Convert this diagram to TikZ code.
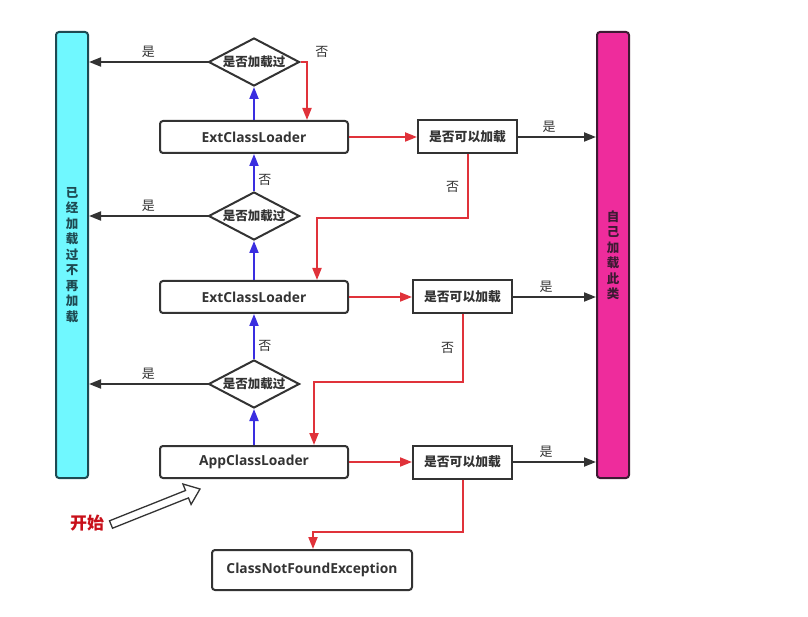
\documentclass[tikz,border=0pt]{standalone}
\usepackage{fontspec}
\setmainfont{Open Sans}
\newfontfamily\cjk{Noto Sans CJK SC}
\usetikzlibrary{shapes.geometric, arrows.meta, positioning}

\definecolor{redline}{HTML}{E0323A}
\definecolor{blueline}{HTML}{3A2EE0}
\definecolor{darkline}{HTML}{333333}
\definecolor{cyanbar}{HTML}{70F8FF}
\definecolor{cyanedge}{HTML}{1E4A52}
\definecolor{pinkbar}{HTML}{EE2C9C}
\definecolor{pinkedge}{HTML}{3D1A33}
\definecolor{starttext}{HTML}{C8101A}

\begin{document}
\begin{tikzpicture}[x=1pt, y=-1pt, >={Triangle[length=12pt, width=9pt]}, line width=2pt,
    loader/.style={draw=darkline, rounded corners=3pt, minimum width=188pt, minimum height=32pt,
        font=\bfseries\fontsize{13.8}{16}\selectfont, text=darkline},
    check/.style={draw=darkline, diamond, aspect=1.9, minimum width=91pt, minimum height=48pt,
        inner sep=0pt, font=\cjk\bfseries\fontsize{12.5}{14}\selectfont, text=darkline},
    canbox/.style={draw=darkline, minimum width=99pt, minimum height=33pt,
        font=\cjk\bfseries\fontsize{12.8}{14}\selectfont, text=darkline},
    bar/.style={rounded corners=3pt, minimum width=32pt, minimum height=446pt, align=center,
        font=\cjk\bfseries\fontsize{12.5}{15.5}\selectfont},
    tag/.style={font=\cjk\fontsize{13}{15}\selectfont, text=darkline},
    up/.style={->, draw=blueline},
    miss/.style={->, draw=redline},
    hit/.style={->, draw=darkline}]
    \useasboundingbox (0,0) rectangle (808,617);

    % side bars
    \node[bar, fill=cyanbar, draw=cyanedge, text=cyanedge] (lbar) at (72,255)
        {已\\经\\加\\载\\过\\不\\再\\加\\载};
    \node[bar, fill=pinkbar, draw=pinkedge, text=pinkedge] (rbar) at (613,255)
        {自\\己\\加\\载\\此\\类};

    % loaders and checks
    \node[check] (d1) at (254,62) {是否加载过};
    \node[loader] (ext1) at (254,137) {ExtClassLoader};
    \node[check] (d2) at (254,216) {是否加载过};
    \node[loader] (ext2) at (254,297) {ExtClassLoader};
    \node[check] (d3) at (254,384) {是否加载过};
    \node[loader] (app) at (254,462) {AppClassLoader};

    \node[canbox] (can1) at (467.5,137) {是否可以加载};
    \node[canbox] (can2) at (462.5,297) {是否可以加载};
    \node[canbox] (can3) at (462.5,462) {是否可以加载};
    \node[loader, minimum width=200pt, minimum height=40pt] (cnf) at (312,570) {ClassNotFoundException};

    % start
    \node[font=\cjk\bfseries\fontsize{17}{20}\selectfont, text=starttext] (start) at (87,523) {开始};
    \draw[draw=darkline, fill=white, line width=1.3pt, line join=miter]
        (109.5,520.8) -- (185.5,490.5) -- (182.9,484) -- (200,489) -- (191.1,504.4)
        -- (188.5,497.9) -- (112.5,528.2) -- cycle;

    % already loaded
    \draw[hit] (d1.west) -- node[tag, above] {是} (d1.west -| lbar.east);
    \draw[hit] (d2.west) -- node[tag, above] {是} (d2.west -| lbar.east);
    \draw[hit] (d3.west) -- node[tag, above] {是} (d3.west -| lbar.east);

    % delegate to parent
    \draw[up] (app.north) -- (d3.south);
    \draw[up] (d3.north) -- node[tag, pos=0.3, right] {否} (ext2.south);
    \draw[up] (ext2.north) -- (d2.south);
    \draw[up] (d2.north) -- node[tag, pos=0.3, right] {否} (ext1.south);
    \draw[up] (ext1.north) -- (d1.south);
    \draw[miss] (d1.east) -| node[tag, pos=0.5, above right, xshift=4pt] {否} ([xshift=53pt]ext1.north);

    % try to load
    \draw[miss] (ext1.east) -- (can1.west);
    \draw[miss] (ext2.east) -- (can2.west);
    \draw[miss] (app.east) -- (can3.west);
    \draw[hit] (can1.east) -- node[tag, above, pos=0.4] {是} (can1.east -| rbar.west);
    \draw[hit] (can2.east) -- node[tag, above, pos=0.4] {是} (can2.east -| rbar.west);
    \draw[hit] (can3.east) -- node[tag, above, pos=0.4] {是} (can3.east -| rbar.west);
    \draw[miss] (can1.south) -- node[tag, left, xshift=-4pt] {否} ++(0,64) -| ([xshift=63pt]ext2.north);
    \draw[miss] (can2.south) -- node[tag, left, xshift=-4pt] {否} ++(0,67) -| ([xshift=60pt]app.north);
    \draw[miss] (can3.south) -- ++(0,52) -| ([xshift=1pt]cnf.north);
\end{tikzpicture}
\end{document}
